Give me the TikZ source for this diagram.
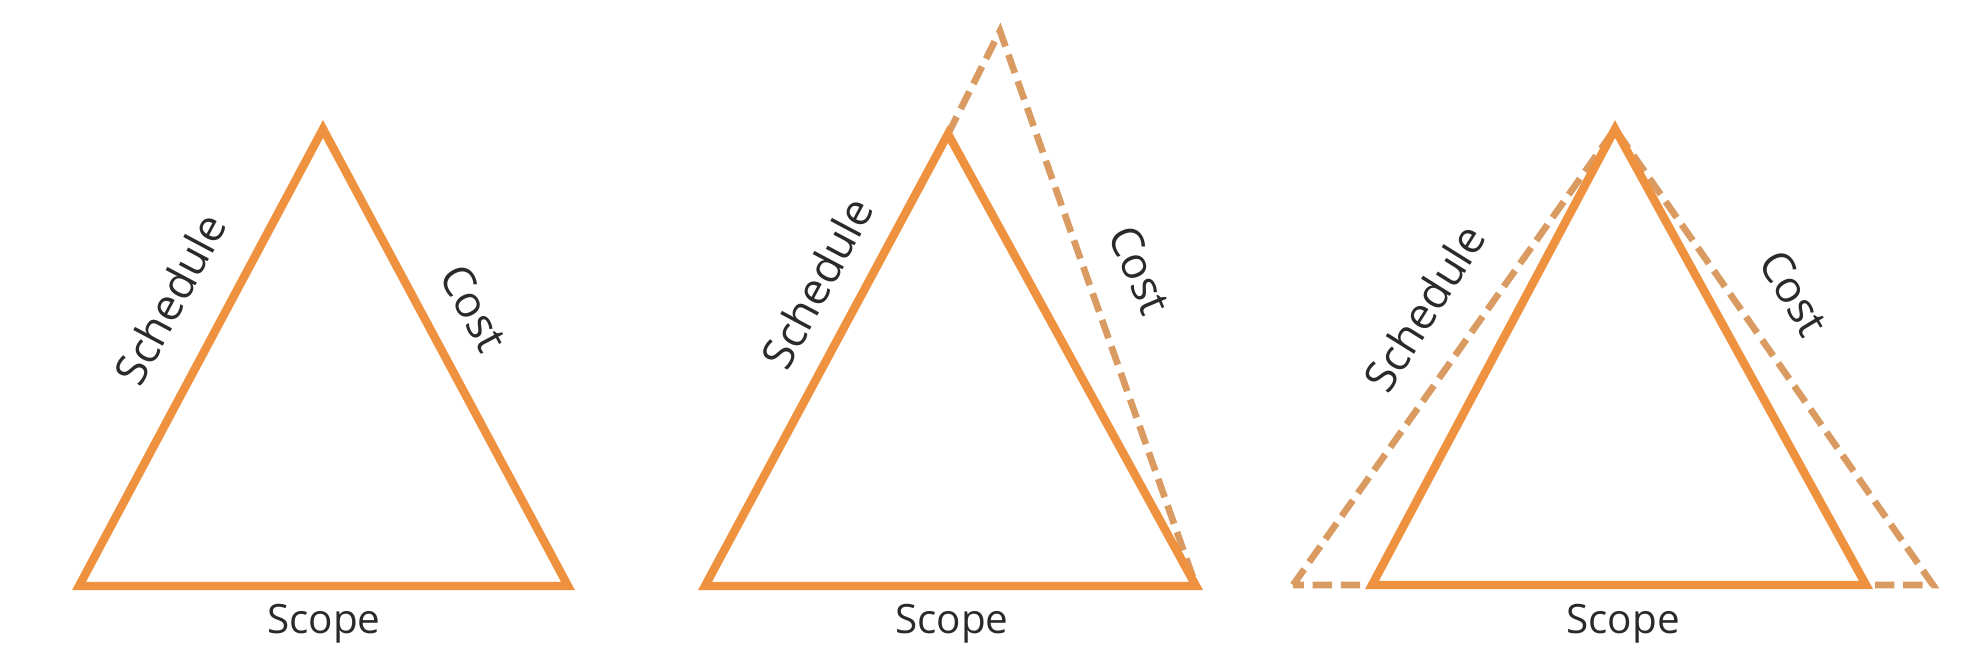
\documentclass[tikz,border=0pt]{standalone}
\usepackage{fontspec}
\setmainfont{Open Sans}
\definecolor{tangor}{HTML}{EE9240}
\definecolor{dashor}{HTML}{D99B62}
\definecolor{txtgray}{HTML}{2A2A2A}

\begin{document}
\begin{tikzpicture}[
  edge/.style={tangor, line width=2.4pt},
  dashedge/.style={dashor, line width=1.9pt, dash pattern=on 5.5pt off 2.5pt},
  sidelbl/.style={font=\fontsize{12.5}{14}\selectfont, text=txtgray, inner sep=0pt},
  baselbl/.style={font=\fontsize{11.5}{13}\selectfont, text=txtgray, inner sep=0pt},
]

% Canvas
\useasboundingbox (0,0) rectangle (19.70,6.63);

% === Triangle 1: balanced ===
\coordinate (topA) at (3.23,5.34);
\coordinate (leftA) at (0.79,0.77);
\coordinate (rightA) at (5.68,0.77);
\draw[edge] (leftA) -- (topA) -- (rightA) -- cycle;
\node[sidelbl, rotate=62] (schedA) at (1.70,3.64) {Schedule};
\node[sidelbl, rotate=-62] (costA) at (4.74,3.55) {Cost};
\node[baselbl] (scopeA) at (3.24,0.39) {Scope};

% === Triangle 2: cost stretched ===
\coordinate (topB) at (9.48,5.29);
\coordinate (leftB) at (7.05,0.77);
\coordinate (rightB) at (11.96,0.77);
\coordinate (peakB) at (10.00,6.32);
\draw[dashedge] (topB) -- (peakB) -- (rightB);
\draw[edge] (leftB) -- (topB) -- (rightB) -- cycle;
\node[sidelbl, rotate=62] (schedB) at (8.17,3.80) {Schedule};
\node[sidelbl, rotate=-67] (costB) at (11.40,3.93) {Cost};
\node[baselbl] (scopeB) at (9.52,0.39) {Scope};

% === Triangle 3: schedule and cost both stretched ===
\coordinate (topC) at (16.15,5.34);
\coordinate (leftC) at (13.72,0.78);
\coordinate (rightC) at (18.66,0.78);
\coordinate (farleftC) at (12.93,0.78);
\coordinate (farrightC) at (19.33,0.78);
\draw[dashedge] (farleftC) -- (topC) -- (farrightC) -- cycle;
\draw[edge] (leftC) -- (topC) -- (rightC) -- cycle;
\node[sidelbl, rotate=58] (schedC) at (14.24,3.55) {Schedule};
\node[sidelbl, rotate=-59] (costC) at (17.94,3.70) {Cost};
\node[baselbl] (scopeC) at (16.23,0.39) {Scope};

\end{tikzpicture}
\end{document}
